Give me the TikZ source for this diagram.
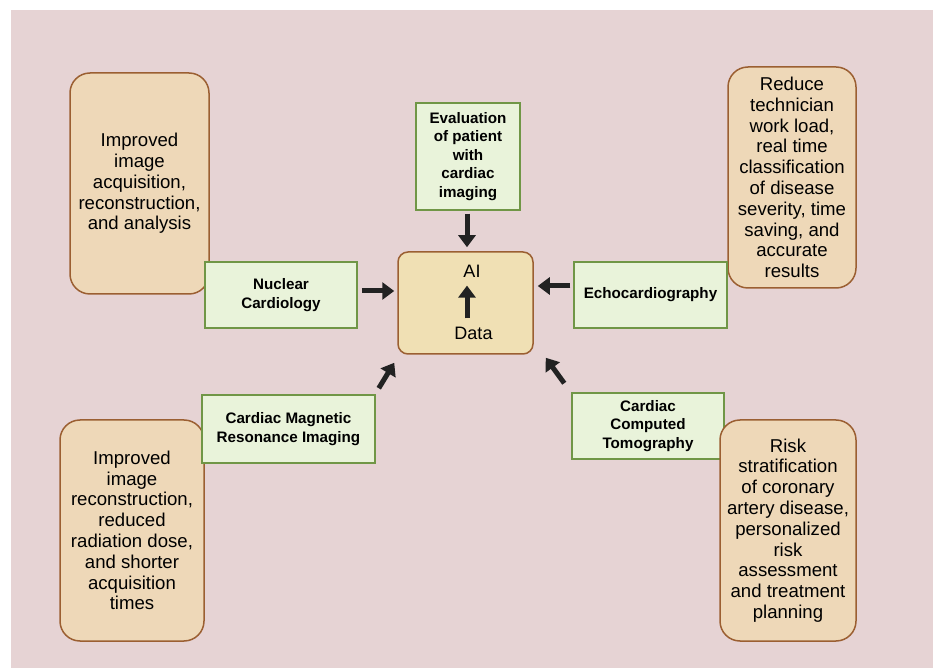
\documentclass[tikz,border=0pt]{standalone}
\usepackage{fontspec}
\setmainfont{Liberation Sans}
\usepackage{tikz}
\usetikzlibrary{arrows.meta, positioning}
\definecolor{bgpink}{HTML}{E6D3D4}
\definecolor{tanfill}{HTML}{EED8B8}
\definecolor{tanline}{HTML}{9B5F32}
\definecolor{hubfill}{HTML}{F0E0B4}
\definecolor{greenfill}{HTML}{E9F3DA}
\definecolor{greenline}{HTML}{709646}
\definecolor{arrowgray}{HTML}{222222}

\begin{document}
\begin{tikzpicture}[
  x=0.5pt, y=-0.5pt,
  tanbox/.style={draw=tanline, fill=tanfill, line width=0.75pt, rounded corners=10pt,
    minimum width=#1, minimum height=110.5pt, align=center, inner sep=2pt,
    font=\fontsize{9.3}{10.4}\selectfont},
  greenbox/.style={draw=greenline, fill=greenfill, line width=0.75pt, align=center,
    minimum width=#1, minimum height=33pt, inner sep=2pt,
    font=\bfseries\fontsize{7.6}{9.25}\selectfont},
  hubbox/.style={draw=tanline, fill=hubfill, line width=0.75pt, rounded corners=5pt,
    minimum width=67.5pt, minimum height=51pt},
  hublabel/.style={inner sep=0pt, font=\fontsize{9}{10}\selectfont},
  bigarrow/.style={draw=arrowgray, line width=2.5pt,
    -{Triangle[width=8.5pt, length=6pt]}, shorten <=1.5pt, shorten >=2pt}
]
% page and background
\fill[white] (0,0) rectangle (933,668);
\fill[bgpink] (11,10) rectangle (933,668);

% outcome boxes
\node[tanbox=69.5pt] (imp1) at (139.5,183.5)
  {Improved\\image\\acquisition,\\reconstruction,\\and analysis};
\node[tanbox=72pt] (imp2) at (132,530.5)
  {Improved\\image\\reconstruction,\\reduced\\radiation dose,\\and shorter\\acquisition\\times};
\node[tanbox=64pt] (reduce) at (792,177.5)
  {Reduce\\technician\\work load,\\real time\\classification\\of disease\\severity, time\\saving, and\\accurate\\results};

% modalities
\node[greenbox=52pt, minimum height=53.5pt] (eval) at (468,156.5)
  {Evaluation\\of patient\\with\\cardiac\\imaging};
\node[greenbox=76pt] (nuc) at (281,295) {Nuclear\\Cardiology};
\node[greenbox=76.5pt] (echo) at (650.5,295) {Echocardiography};
\node[greenbox=86.5pt, minimum height=34pt] (cmr) at (288.5,429)
  {Cardiac Magnetic\\Resonance Imaging};
\node[greenbox=76pt] (cct) at (648,426) {Cardiac\\Computed\\Tomography};

\node[tanbox=68pt] (risk) at (788,530.5)
  {Risk\\stratification\\of coronary\\artery disease,\\personalized\\risk\\assessment\\and treatment\\planning};

% hub
\node[hubbox] (ai) at (465.5,303) {};
\node[hublabel] (aitxt) at (472,271) {AI};
\node[hublabel] (data) at (473.5,333) {Data};
\draw[bigarrow, shorten <=4pt, shorten >=4pt] (data.north -| 467,0) -- (aitxt.south -| 467,0);

% arrows into the hub
\draw[bigarrow] (eval.south -| 467,0) -- (ai.north -| 467,0);
\draw[bigarrow, shorten <=2pt, shorten >=1.5pt] ([yshift=2pt]nuc.east) -- ([yshift=2pt]nuc.east -| ai.west);
\draw[bigarrow] ([yshift=4.5pt]echo.west) -- ([yshift=4.5pt]echo.west -| ai.east);
\draw[bigarrow, shorten <=0pt, shorten >=0pt] ([xshift=1.5pt,yshift=3pt]cmr.north east) -- ([xshift=-1.5pt,yshift=-4pt]ai.south west);
\draw[bigarrow, shorten <=0pt, shorten >=0pt] ([xshift=-3.5pt,yshift=4.5pt]cct.north west) -- ([xshift=6pt,yshift=-1.5pt]ai.south east);
\end{tikzpicture}
\end{document}
